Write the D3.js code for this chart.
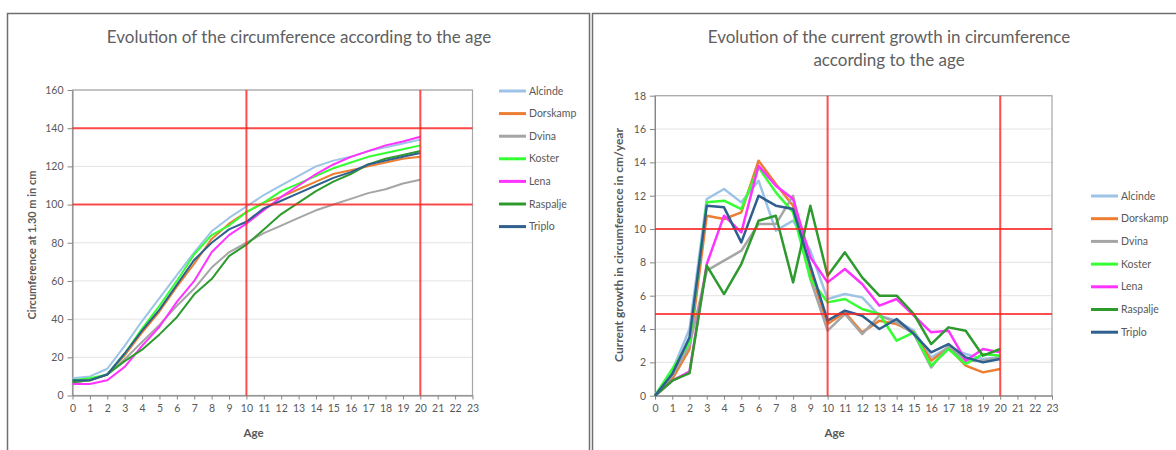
<!DOCTYPE html>
<html lang="en">
<head>
	<meta charset="utf-8">
	<title>Circumference and current growth according to age</title>
	<script src="https://d3js.org/d3.v7.min.js"></script>
	<style>
		body { margin: 0; background: #fff; }
		svg text { font-family: Lato, "Noto Sans", sans-serif; fill: #595959; }
		.tick line { stroke: #868686; }
		.domain { stroke: #868686; }
	</style>
</head>
<body>
	<div id="chart"></div>
	<script>
		// ages on the x axis and clone names
		const ages = d3.range(0, 21);
		const axisAges = d3.range(0, 24);
		const clones = ["Alcinde", "Dorskamp", "Dvina", "Koster", "Lena", "Raspalje", "Triplo"];
		const cloneColors = ["#9dc3e6", "#ed7d31", "#a5a5a5", "#33ff33", "#ff33ff", "#2e9a2e", "#2f5f8f"];

		// circumference at 1.30 m (cm), age 0..20
		const circAlcinde  = [9, 10, 14, 26, 39, 51, 63, 75, 86, 93, 99, 105, 110, 115, 120, 123, 125, 128, 130, 132, 134];
		const circDorskamp = [7, 8, 11, 21, 33, 44, 57, 69, 82, 90, 96, 101, 104, 108, 112, 116, 118, 120, 122, 124, 125];
		const circDvina    = [7, 8, 11, 19, 28, 37, 47, 56, 67, 75, 80, 85, 89, 93, 97, 100, 103, 106, 108, 111, 113];
		const circKoster   = [8, 9, 11, 22, 35, 47, 60, 74, 84, 89, 96, 101, 107, 111, 115, 119, 122, 125, 127, 129, 131];
		const circLena     = [6, 6, 8, 15, 26, 36, 49, 60, 75, 84, 90, 97, 104, 110, 116, 121, 125, 128, 131, 133, 135.5];
		const circRaspalje = [7, 8, 11, 18, 24, 32, 41, 53, 61, 73, 79, 87, 95, 101, 107, 112, 116, 121, 124, 126, 128];
		const circTriplo   = [8, 8, 11, 22, 34, 45, 58, 71, 80, 87, 91, 98, 102, 106, 110, 114, 117, 121, 123, 125, 127];

		// current growth in circumference (cm/year), age 0..20
		const growAlcinde  = [0, 1.5, 4.0, 11.8, 12.4, 11.6, 12.9, 9.9, 10.5, 8.7, 5.8, 6.1, 5.9, 4.8, 4.5, 3.9, 2.3, 2.9, 2.5, 2.2, 2.3];
		const growDorskamp = [0, 1.0, 2.8, 10.8, 10.6, 11.0, 14.1, 12.7, 11.4, 7.5, 4.3, 5.0, 3.8, 4.5, 4.3, 3.8, 2.1, 2.9, 1.8, 1.4, 1.6];
		const growDvina    = [0, 1.2, 3.0, 7.5, 8.1, 8.7, 10.3, 10.3, 12.0, 7.0, 3.9, 4.9, 3.7, 4.8, 4.4, 3.7, 1.7, 3.0, 2.1, 2.1, 2.3];
		const growKoster   = [0, 1.6, 3.2, 11.6, 11.7, 11.2, 13.7, 12.2, 11.0, 7.0, 5.6, 5.8, 5.2, 4.9, 3.3, 3.8, 1.8, 2.8, 1.9, 2.5, 2.4];
		const growLena     = [0, 0.9, 1.45, 7.9, 10.8, 9.8, 13.8, 12.6, 11.8, 8.3, 6.8, 7.6, 6.7, 5.4, 5.8, 4.8, 3.8, 3.9, 2.1, 2.8, 2.6];
		const growRaspalje = [0, 0.9, 1.35, 7.8, 6.1, 7.9, 10.5, 10.8, 6.8, 11.4, 7.2, 8.6, 7.1, 6.0, 6.0, 4.9, 3.1, 4.1, 3.9, 2.4, 2.8];
		const growTriplo   = [0, 1.3, 3.5, 11.4, 11.3, 9.2, 12.0, 11.4, 11.2, 7.8, 4.5, 5.1, 4.8, 4.0, 4.6, 3.7, 2.6, 3.1, 2.3, 2.0, 2.2];

		// red reference lines
		const circRefY = [140, 100];
		const growRefY = [10, 4.9];
		const refAges = [10, 20];

		const circTicks = d3.range(0, 161, 20);
		const growTicks = d3.range(0, 19, 2);

		const width = 1176;
		const height = 450;

		var svg = d3.select("#chart")
					.append("svg")
					.attr("width", width)
					.attr("height", height);

		// panel frames
		svg.append("rect").attr("x", 7.5).attr("y", 13.5).attr("width", 582).attr("height", 460)
			.attr("fill", "none").attr("stroke", "#6f6f6f").attr("stroke-width", 1.5);
		svg.append("rect").attr("x", 592.5).attr("y", 13.5).attr("width", 600).attr("height", 460)
			.attr("fill", "none").attr("stroke", "#6f6f6f").attr("stroke-width", 1.5);

		function drawChart(cfg) {
			let x = d3.scaleLinear().domain([0, 23]).range(cfg.xRange);
			let y = d3.scaleLinear().domain([cfg.yTicks[0], cfg.yTicks[cfg.yTicks.length - 1]]).range(cfg.yRange);
			let g = svg.append("g");

			// gridlines
			g.selectAll("line.grid").data(cfg.yTicks.slice(1))
				.enter().append("line")
				.attr("x1", x(0)).attr("x2", x(23))
				.attr("y1", d => y(d)).attr("y2", d => y(d))
				.attr("stroke", "#e3e3e3").attr("stroke-width", 1);

			// plot border
			g.append("rect")
				.attr("x", x(0)).attr("y", y.range()[1])
				.attr("width", x(23) - x(0)).attr("height", y.range()[0] - y.range()[1])
				.attr("fill", "none").attr("stroke", "#a6a6a6").attr("stroke-width", 1.2);

			// axes
			let xAxis = d3.axisBottom(x).tickValues(axisAges).tickSize(4).tickPadding(5).tickSizeOuter(0);
			let yAxis = d3.axisLeft(y).tickValues(cfg.yTicks).tickSize(5).tickPadding(4).tickSizeOuter(0);
			g.append("g")
				.attr("transform", "translate(0," + y.range()[0] + ")")
				.call(xAxis)
				.selectAll("text").style("font-size", "10.5px");
			g.append("g")
				.attr("transform", "translate(" + x(0) + ",0)")
				.call(yAxis)
				.selectAll("text").style("font-size", "10.5px");

			// series lines
			let line = d3.line()
						 .x((d, i) => x(ages[i]))
						 .y(d => y(d));
			g.selectAll("path.series").data(cfg.series)
				.enter().append("path")
				.attr("class", "series")
				.attr("d", d => line(d))
				.attr("fill", "none")
				.attr("stroke", (d, i) => cloneColors[i])
				.attr("stroke-width", cfg.lineWidth)
				.attr("stroke-linejoin", "round");

			// red reference lines
			g.selectAll("line.refh").data(cfg.refY)
				.enter().append("line")
				.attr("x1", x(0)).attr("x2", x(23))
				.attr("y1", d => y(d)).attr("y2", d => y(d))
				.attr("stroke", "#ff2020").attr("stroke-opacity", 0.8).attr("stroke-width", 2);
			g.selectAll("line.refv").data(refAges)
				.enter().append("line")
				.attr("x1", d => x(d)).attr("x2", d => x(d))
				.attr("y1", y.range()[1]).attr("y2", y.range()[0])
				.attr("stroke", "#ff2020").attr("stroke-opacity", 0.8).attr("stroke-width", 2);

			// titles
			let title = g.append("text")
						 .attr("x", cfg.titleX).attr("y", 43)
						 .attr("text-anchor", "middle")
						 .style("font-size", "17px")
						 .style("fill", "#606060");
			cfg.title.forEach(function(t, i) {
				title.append("tspan").attr("x", cfg.titleX).attr("dy", i === 0 ? 0 : 23).text(t);
			});
			g.append("text")
				.attr("x", (x(0) + x(23)) / 2 - 19).attr("y", 437)
				.attr("text-anchor", "middle")
				.style("font-size", "11.5px").style("font-weight", "bold")
				.text("Age");
			g.append("text")
				.attr("transform", "translate(" + cfg.yTitleX + "," + cfg.yTitleY + ") rotate(-90)")
				.attr("text-anchor", "middle")
				.style("font-size", cfg.yTitleSize).style("font-weight", "bold")
				.text(cfg.yTitle);

			// legend
			let leg = g.selectAll("g.legend").data(clones)
						.enter().append("g")
						.attr("transform", (d, i) => "translate(" + cfg.legendX + "," + (cfg.legendY + i * cfg.legendStep) + ")");
			leg.append("line")
				.attr("x1", 0).attr("x2", 27)
				.attr("stroke", (d, i) => cloneColors[i])
				.attr("stroke-width", 3);
			leg.append("text")
				.attr("x", 30).attr("dy", "0.35em")
				.style("font-size", "10.5px")
				.text(d => d);
		}

		drawChart({
			series: [circAlcinde, circDorskamp, circDvina, circKoster, circLena, circRaspalje, circTriplo],
			xRange: [72.5, 472.5],
			yRange: [395.5, 90],
			yTicks: circTicks,
			refY: circRefY,
			lineWidth: 2,
			title: ["Evolution of the circumference according to the age"],
			titleX: 299,
			yTitle: "Circumference at 1.30 m  in cm",
			yTitleSize: "11px",
			yTitleX: 36,
			yTitleY: 245,
			legendX: 499,
			legendY: 91,
			legendStep: 22.6
		});

		drawChart({
			series: [growAlcinde, growDorskamp, growDvina, growKoster, growLena, growRaspalje, growTriplo],
			xRange: [655, 1052],
			yRange: [395.7, 95.7],
			yTicks: growTicks,
			refY: growRefY,
			lineWidth: 2.5,
			title: ["Evolution of the current growth in circumference", "according to the  age"],
			titleX: 889,
			yTitle: "Current growth in circumference in cm/year",
			yTitleSize: "12px",
			yTitleX: 623,
			yTitleY: 245,
			legendX: 1091,
			legendY: 196,
			legendStep: 22.7
		});
	</script>
</body>
</html>
